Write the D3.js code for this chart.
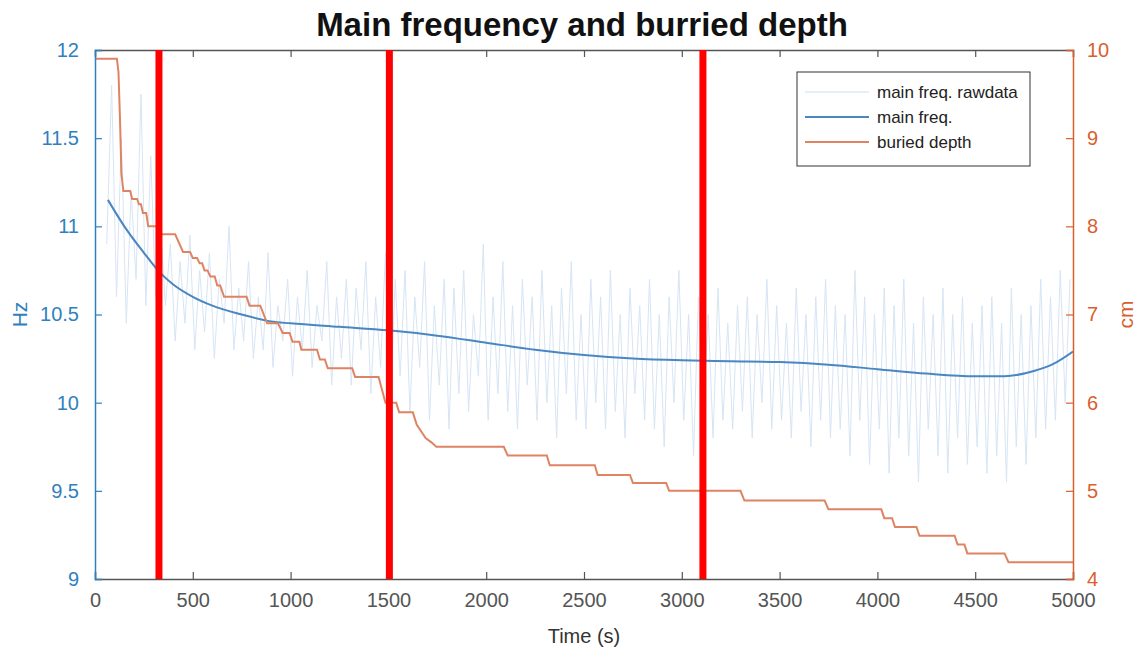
<!DOCTYPE html>
<html lang="en">
<head>
    <meta charset="UTF-8">
    <title>Main frequency and burried depth</title>
    <script src="https://d3js.org/d3.v7.min.js"></script>
    <style>
        body { margin: 0; background: #fff; font-family: "Liberation Sans", Arial, sans-serif; }
        svg { display: block; }
    </style>
</head>
<body>
    <svg width="1140" height="652"></svg>
    <script>
        // raw main frequency, one sample every 25 s starting at 60 s
        const rawStart = 60, rawStep = 25;
        const rawFreq = [
            10.9, 11.8, 10.6, 11.5, 10.45, 11.2, 10.7, 11.75, 10.55, 11.4,
            10.6, 11.0, 10.55, 10.9, 10.35, 10.8, 10.45, 10.95, 10.3, 10.75,
            10.4, 10.85, 10.25, 10.7, 10.45, 11.0, 10.3, 10.65, 10.35, 10.8,
            10.25, 10.6, 10.3, 10.85, 10.2, 10.55, 10.35, 10.7, 10.15, 10.6,
            10.3, 10.75, 10.2, 10.55, 10.35, 10.8, 10.1, 10.6, 10.25, 10.7,
            10.1, 10.65, 10.3, 10.8, 10.05, 10.6, 10.2, 10.85, 10.0, 10.7,
            10.15, 10.75, 9.95, 10.6, 10.2, 10.8, 9.9, 10.55, 10.1, 10.7,
            9.85, 10.65, 10.05, 10.75, 9.95, 10.5, 10.15, 10.9, 9.9, 10.6,
            10.05, 10.8, 9.95, 10.55, 9.85, 10.7, 10.1, 10.6, 9.9, 10.75,
            10.0, 10.55, 9.8, 10.65, 10.05, 10.8, 9.9, 10.5, 9.85, 10.7,
            10.0, 10.6, 9.85, 10.75, 9.95, 10.5, 9.8, 10.65, 10.05, 10.55,
            9.9, 10.7, 9.85, 10.5, 9.75, 10.6, 10.0, 10.75, 9.9, 10.5,
            9.7, 10.6, 9.95, 10.5, 9.8, 10.65, 9.9, 10.45, 9.85, 10.55,
            9.95, 10.6, 9.8, 10.5, 10.0, 10.7, 9.85, 10.55, 9.9, 10.45,
            9.8, 10.65, 9.95, 10.5, 9.75, 10.6, 9.9, 10.7, 9.8, 10.55,
            9.85, 10.5, 9.7, 10.75, 9.9, 10.6, 9.65, 10.5, 9.85, 10.65,
            9.6, 10.55, 9.8, 10.7, 9.7, 10.45, 9.55, 10.6, 9.85, 10.5,
            9.7, 10.65, 9.6, 10.5, 9.8, 10.6, 9.65, 10.45, 9.75, 10.55,
            9.6, 10.6, 9.7, 10.45, 9.55, 10.65, 9.75, 10.5, 9.65, 10.55,
            9.8, 10.7, 9.85, 10.6, 9.9, 10.75, 10.0, 10.7
        ];

        // smoothed main frequency [time s, Hz]
        const mainFreq = [
            [66, 11.15], [150, 11.0], [250, 10.85], [330, 10.74], [400, 10.67],
            [500, 10.6], [600, 10.55], [750, 10.5], [900, 10.46], [1000, 10.45],
            [1250, 10.43], [1500, 10.41], [1750, 10.38], [2000, 10.34], [2250, 10.3],
            [2500, 10.27], [2750, 10.25], [3000, 10.24], [3250, 10.235], [3500, 10.23],
            [3750, 10.215], [4000, 10.19], [4250, 10.165], [4500, 10.15], [4650, 10.15],
            [4800, 10.18], [4900, 10.22], [5000, 10.29]
        ];

        // buried depth [time s, cm]
        const buriedDepth = [
            [0, 9.9], [112, 9.9], [120, 9.75], [128, 9.2], [135, 8.6], [145, 8.4],
            [180, 8.4], [190, 8.31], [215, 8.31], [225, 8.25], [235, 8.25], [245, 8.15],
            [262, 8.15], [272, 8.0], [325, 8.0], [340, 7.91], [410, 7.91], [450, 7.71],
            [486, 7.71], [500, 7.64], [522, 7.64], [535, 7.58], [548, 7.58], [560, 7.5],
            [575, 7.5], [590, 7.43], [612, 7.43], [625, 7.33], [640, 7.33], [660, 7.2],
            [775, 7.2], [790, 7.1], [845, 7.1], [880, 6.9], [935, 6.9], [960, 6.79],
            [995, 6.79], [1010, 6.69], [1045, 6.69], [1055, 6.6], [1135, 6.6], [1150, 6.49],
            [1175, 6.49], [1190, 6.39], [1315, 6.39], [1330, 6.29], [1450, 6.29], [1485, 6.0],
            [1540, 6.0], [1555, 5.89], [1625, 5.89], [1645, 5.75], [1675, 5.65], [1690, 5.6],
            [1720, 5.55], [1745, 5.5], [2090, 5.5], [2110, 5.4], [2310, 5.4], [2325, 5.29],
            [2555, 5.29], [2570, 5.18], [2735, 5.18], [2750, 5.09], [2920, 5.09], [2935, 5.0],
            [3300, 5.0], [3320, 4.89], [3730, 4.89], [3750, 4.79], [4020, 4.79], [4035, 4.69],
            [4075, 4.69], [4090, 4.59], [4200, 4.59], [4215, 4.49], [4395, 4.49], [4410, 4.39],
            [4445, 4.39], [4460, 4.29], [4650, 4.29], [4670, 4.19], [5000, 4.19]
        ];

        const markerTimes = [327, 1505, 3108];

        const xTicks = d3.range(0, 5001, 500);
        const hzTicks = [9, 9.5, 10, 10.5, 11, 11.5, 12];
        const cmTicks = [4, 5, 6, 7, 8, 9, 10];

        const legendItems = [
            { label: "main freq. rawdata", color: "#e6eef7" },
            { label: "main freq.", color: "#4a86c0" },
            { label: "buried depth", color: "#de8463" }
        ];

        const blue = "#2f80c0", orange = "#d95f2e", gray = "#555";
        const m = { left: 95, right: 1073, top: 50, bottom: 579 };

        const svg = d3.select("svg");

        const x = d3.scaleLinear().domain([0, 5000]).range([m.left, m.right]);
        const yHz = d3.scaleLinear().domain([9, 12]).range([m.bottom, m.top]);
        const yCm = d3.scaleLinear().domain([4, 10]).range([m.bottom, m.top]);

        svg.append("clipPath").attr("id", "plot")
            .append("rect").attr("x", m.left).attr("y", m.top)
            .attr("width", m.right - m.left).attr("height", m.bottom - m.top);

        const g = svg.append("g").attr("clip-path", "url(#plot)");

        // raw data
        g.append("path")
            .datum(rawFreq)
            .attr("fill", "none")
            .attr("stroke", "#d6e5f5")
            .attr("stroke-width", 1)
            .attr("d", d3.line()
                .x((d, i) => x(rawStart + i * rawStep))
                .y(d => yHz(d)));

        // smoothed
        g.append("path")
            .datum(mainFreq)
            .attr("fill", "none")
            .attr("stroke", "#4a86c0")
            .attr("stroke-width", 2)
            .attr("d", d3.line().curve(d3.curveMonotoneX)
                .x(d => x(d[0])).y(d => yHz(d[1])));

        // depth
        g.append("path")
            .datum(buriedDepth)
            .attr("fill", "none")
            .attr("stroke", "#de8463")
            .attr("stroke-width", 2)
            .attr("d", d3.line().x(d => x(d[0])).y(d => yCm(d[1])));

        // axes
        const xAxis = d3.axisBottom(x).tickValues(xTicks).tickSize(-7).tickPadding(14).tickFormat(d3.format("d"));
        const xTop = d3.axisTop(x).tickValues(xTicks).tickSize(-7).tickFormat("");
        const yLeft = d3.axisLeft(yHz).tickValues(hzTicks).tickSize(-7).tickPadding(16).tickFormat(d => d);
        const yRight = d3.axisRight(yCm).tickValues(cmTicks).tickSize(-7).tickPadding(14).tickFormat(d => d);

        function styleAxis(sel, color) {
            sel.select(".domain").attr("stroke", color).attr("stroke-width", 1.5);
            sel.selectAll(".tick line").attr("stroke", color).attr("stroke-width", 1.2);
            sel.selectAll(".tick text").attr("fill", color)
                .attr("font-family", "Liberation Sans, Arial, sans-serif")
                .attr("font-size", 20);
        }

        svg.append("g").attr("transform", `translate(0,${m.bottom})`).call(xAxis).call(s => styleAxis(s, gray));
        svg.append("g").attr("transform", `translate(0,${m.top})`).call(xTop).call(s => styleAxis(s, gray));
        svg.append("g").attr("transform", `translate(${m.left},0)`).call(yLeft).call(s => styleAxis(s, blue));
        svg.append("g").attr("transform", `translate(${m.right},0)`).call(yRight).call(s => styleAxis(s, orange));

        // red markers
        svg.selectAll("line.marker").data(markerTimes).enter().append("line")
            .attr("class", "marker")
            .attr("x1", d => x(d)).attr("x2", d => x(d))
            .attr("y1", m.top).attr("y2", m.bottom)
            .attr("stroke", "#ff0000").attr("stroke-width", 7);

        // labels
        svg.append("text")
            .attr("x", (m.left + m.right) / 2 - 2).attr("y", 36)
            .attr("text-anchor", "middle")
            .attr("font-size", 33).attr("font-weight", "bold").attr("fill", "#111")
            .text("Main frequency and burried depth");

        svg.append("text")
            .attr("x", (m.left + m.right) / 2).attr("y", 643)
            .attr("text-anchor", "middle")
            .attr("font-size", 20).attr("fill", "#333")
            .text("Time (s)");

        svg.append("text")
            .attr("transform", `translate(27,${(m.top + m.bottom) / 2}) rotate(-90)`)
            .attr("text-anchor", "middle")
            .attr("font-size", 21).attr("fill", blue)
            .text("Hz");

        svg.append("text")
            .attr("transform", `translate(1133,${(m.top + m.bottom) / 2}) rotate(-90)`)
            .attr("text-anchor", "middle")
            .attr("font-size", 21).attr("fill", orange)
            .text("cm");

        // legend
        const lg = svg.append("g").attr("transform", "translate(797,72)");
        lg.append("rect").attr("width", 233).attr("height", 94)
            .attr("fill", "#fff").attr("stroke", "#333").attr("stroke-width", 1);
        legendItems.forEach((d, i) => {
            const yy = 20 + i * 25;
            lg.append("line").attr("x1", 8).attr("x2", 72).attr("y1", yy).attr("y2", yy)
                .attr("stroke", d.color).attr("stroke-width", 2);
            lg.append("text").attr("x", 80).attr("y", yy + 6)
                .attr("font-size", 17).attr("fill", "#222").text(d.label);
        });
    </script>
</body>
</html>
